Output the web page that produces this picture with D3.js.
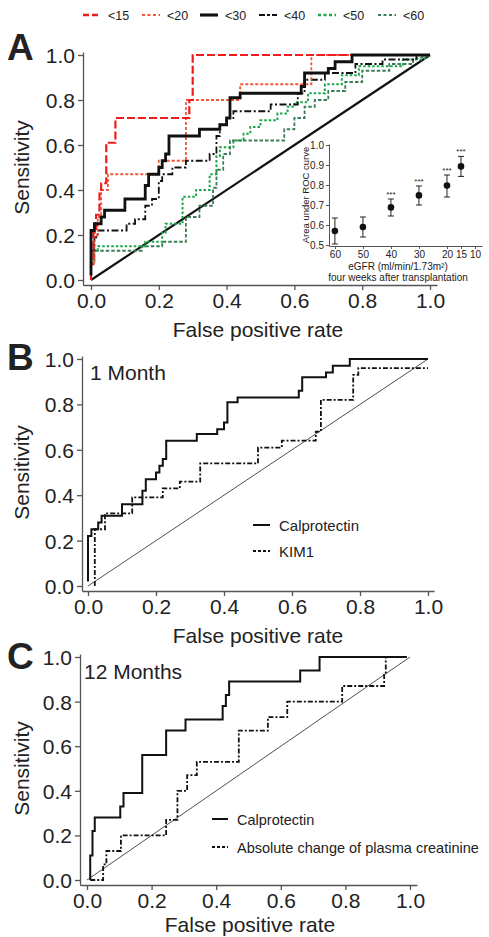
<!DOCTYPE html>
<html lang="en">
<head>
<meta charset="UTF-8">
<title>ROC curves</title>
<script src="https://d3js.org/d3.v7.min.js"></script>
<style>
  body { margin: 0; background: #fff; }
  text { font-family: "Liberation Sans", Arial, sans-serif; fill: #222; }
</style>
</head>
<body>
<svg width="489" height="937"></svg>
<script>
// ---- data (false positive rate, sensitivity) ----
const rocTicks = [0, 0.2, 0.4, 0.6, 0.8, 1.0];

const egfrLabels = ["<15", "<20", "<30", "<40", "<50", "<60"];

const roc15 = [[0,0],[0,0.07],[0.007,0.07],[0.007,0.21],[0.015,0.21],[0.015,0.29],[0.025,0.29],[0.025,0.40],[0.03,0.40],[0.03,0.43],[0.045,0.43],[0.045,0.61],[0.072,0.61],[0.072,0.72],[0.29,0.72],[0.29,0.80],[0.30,0.80],[0.30,1.0],[1.0,1.0]];

const roc20 = [[0,0],[0,0.07],[0.01,0.07],[0.01,0.2],[0.02,0.2],[0.02,0.28],[0.03,0.28],[0.03,0.40],[0.05,0.40],[0.05,0.47],[0.2,0.47],[0.2,0.53],[0.28,0.53],[0.28,0.8],[0.44,0.8],[0.44,0.87],[0.65,0.87],[0.65,1.0],[1,1]];

// calprotectin at 1 month, also the <30 curve in panel A
const calpro1m = [[0,0.02],[0,0.22],[0.01,0.22],[0.01,0.25],[0.03,0.25],[0.03,0.28],[0.04,0.28],[0.04,0.31],[0.10,0.31],[0.10,0.36],[0.16,0.36],[0.16,0.42],[0.17,0.42],[0.17,0.47],[0.20,0.47],[0.20,0.50],[0.21,0.50],[0.21,0.53],[0.22,0.53],[0.22,0.56],[0.23,0.56],[0.23,0.64],[0.32,0.64],[0.32,0.67],[0.38,0.67],[0.38,0.69],[0.40,0.69],[0.40,0.72],[0.41,0.72],[0.41,0.81],[0.44,0.81],[0.44,0.83],[0.62,0.83],[0.62,0.86],[0.63,0.86],[0.63,0.92],[0.70,0.92],[0.70,0.94],[0.72,0.94],[0.72,0.97],[0.77,0.97],[0.77,1.0],[1.0,1.0]];

const roc40 = [[0,0],[0,0.13],[0.01,0.13],[0.01,0.19],[0.02,0.19],[0.02,0.22],[0.105,0.22],[0.105,0.25],[0.13,0.25],[0.13,0.27],[0.16,0.27],[0.16,0.33],[0.18,0.33],[0.18,0.36],[0.20,0.36],[0.20,0.44],[0.21,0.44],[0.21,0.47],[0.24,0.47],[0.24,0.5],[0.28,0.5],[0.28,0.53],[0.35,0.53],[0.35,0.56],[0.37,0.56],[0.37,0.64],[0.38,0.64],[0.38,0.69],[0.40,0.69],[0.40,0.72],[0.42,0.72],[0.42,0.75],[0.53,0.75],[0.53,0.78],[0.61,0.78],[0.61,0.83],[0.63,0.83],[0.63,0.89],[0.69,0.89],[0.69,0.92],[0.78,0.92],[0.78,0.96],[0.86,0.96],[0.86,0.98],[0.96,0.98],[0.96,1.0],[1.0,1.0]];

const roc50 = [[0,0],[0,0.08],[0.01,0.08],[0.01,0.13],[0.02,0.13],[0.02,0.15],[0.16,0.15],[0.16,0.17],[0.21,0.17],[0.21,0.21],[0.22,0.21],[0.22,0.25],[0.27,0.25],[0.27,0.37],[0.31,0.37],[0.31,0.40],[0.35,0.40],[0.35,0.47],[0.37,0.47],[0.37,0.55],[0.38,0.55],[0.38,0.59],[0.42,0.59],[0.42,0.62],[0.45,0.62],[0.45,0.65],[0.47,0.65],[0.47,0.68],[0.5,0.68],[0.5,0.71],[0.55,0.71],[0.55,0.74],[0.58,0.74],[0.58,0.77],[0.60,0.77],[0.60,0.79],[0.64,0.79],[0.64,0.83],[0.69,0.83],[0.69,0.87],[0.74,0.87],[0.74,0.91],[0.79,0.91],[0.79,0.95],[0.92,0.95],[0.92,0.98],[0.98,0.98],[1,1]];

const roc60 = [[0,0],[0,0.13],[0.15,0.13],[0.15,0.15],[0.21,0.15],[0.21,0.17],[0.28,0.17],[0.28,0.28],[0.32,0.28],[0.32,0.33],[0.36,0.33],[0.36,0.41],[0.37,0.41],[0.37,0.49],[0.39,0.49],[0.39,0.56],[0.41,0.56],[0.41,0.62],[0.57,0.62],[0.57,0.67],[0.60,0.67],[0.60,0.72],[0.63,0.72],[0.63,0.77],[0.66,0.77],[0.66,0.8],[0.70,0.8],[0.70,0.84],[0.75,0.84],[0.75,0.88],[0.80,0.88],[0.80,0.93],[0.88,0.93],[0.88,0.96],[0.95,0.96],[0.95,0.98],[1,1]];

const kim1 = [[0.02,0],[0.02,0.25],[0.05,0.25],[0.05,0.32],[0.13,0.32],[0.13,0.39],[0.22,0.39],[0.22,0.43],[0.27,0.43],[0.27,0.46],[0.33,0.46],[0.33,0.54],[0.50,0.54],[0.50,0.61],[0.57,0.61],[0.57,0.64],[0.67,0.64],[0.67,0.68],[0.685,0.68],[0.685,0.82],[0.78,0.82],[0.78,0.93],[0.795,0.93],[0.795,0.96],[1.0,0.96]];

const calpro12m = [[0.01,0],[0.01,0.11],[0.017,0.11],[0.017,0.22],[0.024,0.22],[0.024,0.28],[0.103,0.28],[0.103,0.33],[0.113,0.33],[0.113,0.39],[0.171,0.39],[0.171,0.56],[0.245,0.56],[0.245,0.67],[0.305,0.67],[0.305,0.72],[0.42,0.72],[0.42,0.78],[0.43,0.78],[0.43,0.83],[0.44,0.83],[0.44,0.89],[0.66,0.89],[0.66,0.94],[0.72,0.94],[0.72,1.0],[0.99,1.0]];

const creat12m = [[0.01,0],[0.05,0],[0.05,0.07],[0.06,0.07],[0.06,0.13],[0.105,0.13],[0.105,0.2],[0.245,0.2],[0.245,0.27],[0.28,0.27],[0.28,0.4],[0.31,0.4],[0.31,0.47],[0.34,0.47],[0.34,0.53],[0.47,0.53],[0.47,0.67],[0.56,0.67],[0.56,0.73],[0.62,0.73],[0.62,0.8],[0.79,0.8],[0.79,0.87],[0.92,0.87],[0.92,0.93],[0.925,0.93],[0.925,1.0],[0.99,1.0]];

const diagonal = [[0,0],[1,1]];

// inset: AUC vs eGFR cut-off
const egfrCut = [60, 50, 40, 30, 20, 15];
const aucVal  = [0.57, 0.59, 0.688, 0.748, 0.797, 0.893];
const aucLo   = [0.505, 0.54, 0.645, 0.70, 0.74, 0.843];
const aucHi   = [0.635, 0.64, 0.73, 0.795, 0.85, 0.943];
const aucSig  = ["", "", "***", "***", "***", "***"];
const egfrTicks = [60, 50, 40, 30, 20, 15, 10];
const aucTicks = [0.5, 0.6, 0.7, 0.8, 0.9, 1.0];

// ---- drawing ----
const svg = d3.select("svg");
const axisColor = "#555";

function styleAxis(g, size) {
  g.select(".domain").attr("stroke", axisColor).attr("stroke-width", 1.3);
  g.selectAll(".tick line").attr("stroke", axisColor).attr("stroke-width", 1.3);
  g.selectAll(".tick text").attr("font-size", size).attr("fill", "#222")
    .attr("font-family", '"Liberation Sans", Arial, sans-serif');
}

function panel(p) {
  const ux = p.x1 - p.x0, uy = p.y0 - p.y1;
  const x = d3.scaleLinear()
    .domain([(p.axL - p.x0) / ux, (p.axR - p.x0) / ux])
    .range([p.axL, p.axR]);
  const y = d3.scaleLinear()
    .domain([(p.y0 - p.axB) / uy, (p.y0 - p.axT) / uy])
    .range([p.axB, p.axT]);

  const gx = svg.append("g").attr("transform", `translate(0,${p.axB})`)
    .call(d3.axisBottom(x).tickValues(rocTicks).tickFormat(d3.format(".1f"))
      .tickSize(5).tickSizeOuter(0).tickPadding(3));
  styleAxis(gx, 21);
  const gy = svg.append("g").attr("transform", `translate(${p.axL},0)`)
    .call(d3.axisLeft(y).tickValues(rocTicks).tickFormat(d3.format(".1f"))
      .tickSize(5).tickSizeOuter(0).tickPadding(3));
  styleAxis(gy, 21);
  gy.selectAll(".tick text").attr("dy", "0.36em");

  svg.append("text").attr("x", p.titleX).attr("y", p.titleY)
    .attr("text-anchor", "middle").attr("font-size", 21).text("False positive rate");
  svg.append("text")
    .attr("transform", `translate(29,${(p.y0 + p.y1) / 2}) rotate(-90)`)
    .attr("text-anchor", "middle").attr("font-size", 21).text("Sensitivity");
  svg.append("text").attr("x", 7).attr("y", p.letterY)
    .attr("font-size", 37).attr("font-weight", "bold").text(p.letter);

  const line = d3.line().x(d => x(d[0])).y(d => y(d[1]));
  p.curves.forEach(c => {
    svg.append("path").datum(c.data).attr("d", line)
      .attr("fill", "none").attr("stroke", c.color)
      .attr("stroke-width", c.width)
      .attr("stroke-dasharray", c.dash || null);
  });
  return { x, y };
}

// panel A
const styleA = {
  "<15": { color: "#ee1c1c", width: 2.2, dash: "8,3" },
  "<20": { color: "#f5553a", width: 1.8, dash: "3,2" },
  "<30": { color: "#111", width: 2.8, dash: null },
  "<40": { color: "#111", width: 1.8, dash: "7,2.5,2,2.5" },
  "<50": { color: "#1aa64a", width: 2, dash: "2.5,2" },
  "<60": { color: "#3e7c55", width: 1.8, dash: "3.5,2" }
};
const dataA = { "<15": roc15, "<20": roc20, "<30": calpro1m, "<40": roc40, "<50": roc50, "<60": roc60 };

panel({
  x0: 91, x1: 430, y0: 280, y1: 55, axL: 83, axR: 437, axB: 285, axT: 52,
  titleX: 258, titleY: 337, letter: "A", letterY: 60,
  curves: [
    { data: diagonal, color: "#111", width: 2.2 },
    ...["<60", "<50", "<40", "<20", "<15", "<30"].map(k => Object.assign({ data: dataA[k] }, styleA[k]))
  ]
});

// top legend
const legX = [83, 142, 200, 259, 318, 378];
egfrLabels.forEach((lab, i) => {
  const s = styleA[lab];
  svg.append("line").attr("x1", legX[i]).attr("x2", legX[i] + 18)
    .attr("y1", 15).attr("y2", 15)
    .attr("stroke", s.color).attr("stroke-width", s.width + 0.3)
    .attr("stroke-dasharray", s.dash === null ? null : (lab === "<15" ? "6,3" : lab === "<40" ? "6,2,3,2" : "3,2.5"));
  svg.append("text").attr("x", legX[i] + 25).attr("y", 19.5)
    .attr("font-size", 12.5).text(lab);
});

// inset
const ix = d3.scaleLinear().domain([62.1, 7.5]).range([329, 482]);
const iy = d3.scaleLinear().domain([0.495, 1.005]).range([246, 144]);
const ginx = svg.append("g").attr("transform", "translate(0,246)")
  .call(d3.axisBottom(ix).tickValues(egfrTicks).tickSize(3).tickSizeOuter(0).tickPadding(2));
styleAxis(ginx, 10);
ginx.selectAll(".domain, .tick line").attr("stroke-width", 1);
const giny = svg.append("g").attr("transform", "translate(329,0)")
  .call(d3.axisLeft(iy).tickValues(aucTicks).tickFormat(d3.format(".1f")).tickSize(3).tickSizeOuter(0).tickPadding(2));
styleAxis(giny, 10);
giny.selectAll(".domain, .tick line").attr("stroke-width", 1);
giny.selectAll(".tick text").attr("fill", "#444");
ginx.selectAll(".tick text").attr("fill", "#333");

svg.append("text").attr("x", 398).attr("y", 270).attr("text-anchor", "middle")
  .attr("font-size", 10).attr("fill", "#333").text("eGFR (ml/min/1.73m²)");
svg.append("text").attr("x", 398).attr("y", 281).attr("text-anchor", "middle")
  .attr("font-size", 10).attr("fill", "#333").text("four weeks after transplantation");
svg.append("text").attr("transform", "translate(309,195) rotate(-90)")
  .attr("text-anchor", "middle").attr("font-size", 9.5).attr("fill", "#444").text("Area under ROC curve");

egfrCut.forEach((e, i) => {
  const cx = ix(e);
  svg.append("line").attr("x1", cx).attr("x2", cx).attr("y1", iy(aucLo[i])).attr("y2", iy(aucHi[i]))
    .attr("stroke", "#222").attr("stroke-width", 1);
  [aucLo[i], aucHi[i]].forEach(v => {
    svg.append("line").attr("x1", cx - 3).attr("x2", cx + 3).attr("y1", iy(v)).attr("y2", iy(v))
      .attr("stroke", "#222").attr("stroke-width", 1);
  });
  svg.append("circle").attr("cx", cx).attr("cy", iy(aucVal[i])).attr("r", 3.3).attr("fill", "#111");
  if (aucSig[i]) {
    svg.append("text").attr("x", cx).attr("y", iy(aucHi[i]) - 2).attr("text-anchor", "middle")
      .attr("font-size", 8).attr("fill", "#333").text(aucSig[i]);
  }
});

// panel B
panel({
  x0: 88, x1: 428, y0: 586, y1: 359, axL: 82, axR: 434, axB: 591, axT: 356,
  titleX: 258, titleY: 643, letter: "B", letterY: 370,
  curves: [
    { data: diagonal, color: "#222", width: 0.8 },
    { data: kim1, color: "#111", width: 1.8, dash: "5,2,2,2" },
    { data: calpro1m, color: "#111", width: 2 }
  ]
});
svg.append("text").attr("x", 90).attr("y", 380).attr("font-size", 21).text("1 Month");
[["Calprotectin", null, 525], ["KIM1", "3,2", 551]].forEach(([lab, dash, yy]) => {
  svg.append("line").attr("x1", 253).attr("x2", 270).attr("y1", yy).attr("y2", yy)
    .attr("stroke", "#111").attr("stroke-width", 2).attr("stroke-dasharray", dash);
  svg.append("text").attr("x", 279).attr("y", yy + 5.5).attr("font-size", 15).text(lab);
});

// panel C
panel({
  x0: 87, x1: 410, y0: 880, y1: 657, axL: 80, axR: 417, axB: 885, axT: 654,
  titleX: 250, titleY: 932, letter: "C", letterY: 669,
  curves: [
    { data: diagonal, color: "#222", width: 0.8 },
    { data: creat12m, color: "#111", width: 1.8, dash: "5,2,2,2" },
    { data: calpro12m, color: "#111", width: 2 }
  ]
});
svg.append("text").attr("x", 84).attr("y", 679).attr("font-size", 21).text("12 Months");
[["Calprotectin", null, 819], ["Absolute change of plasma creatinine", "3,2", 847]].forEach(([lab, dash, yy]) => {
  svg.append("line").attr("x1", 212).attr("x2", 228).attr("y1", yy).attr("y2", yy)
    .attr("stroke", "#111").attr("stroke-width", 2).attr("stroke-dasharray", dash);
  svg.append("text").attr("x", 237).attr("y", yy + 5.5).attr("font-size", 14.5).text(lab);
});
</script>
</body>
</html>
